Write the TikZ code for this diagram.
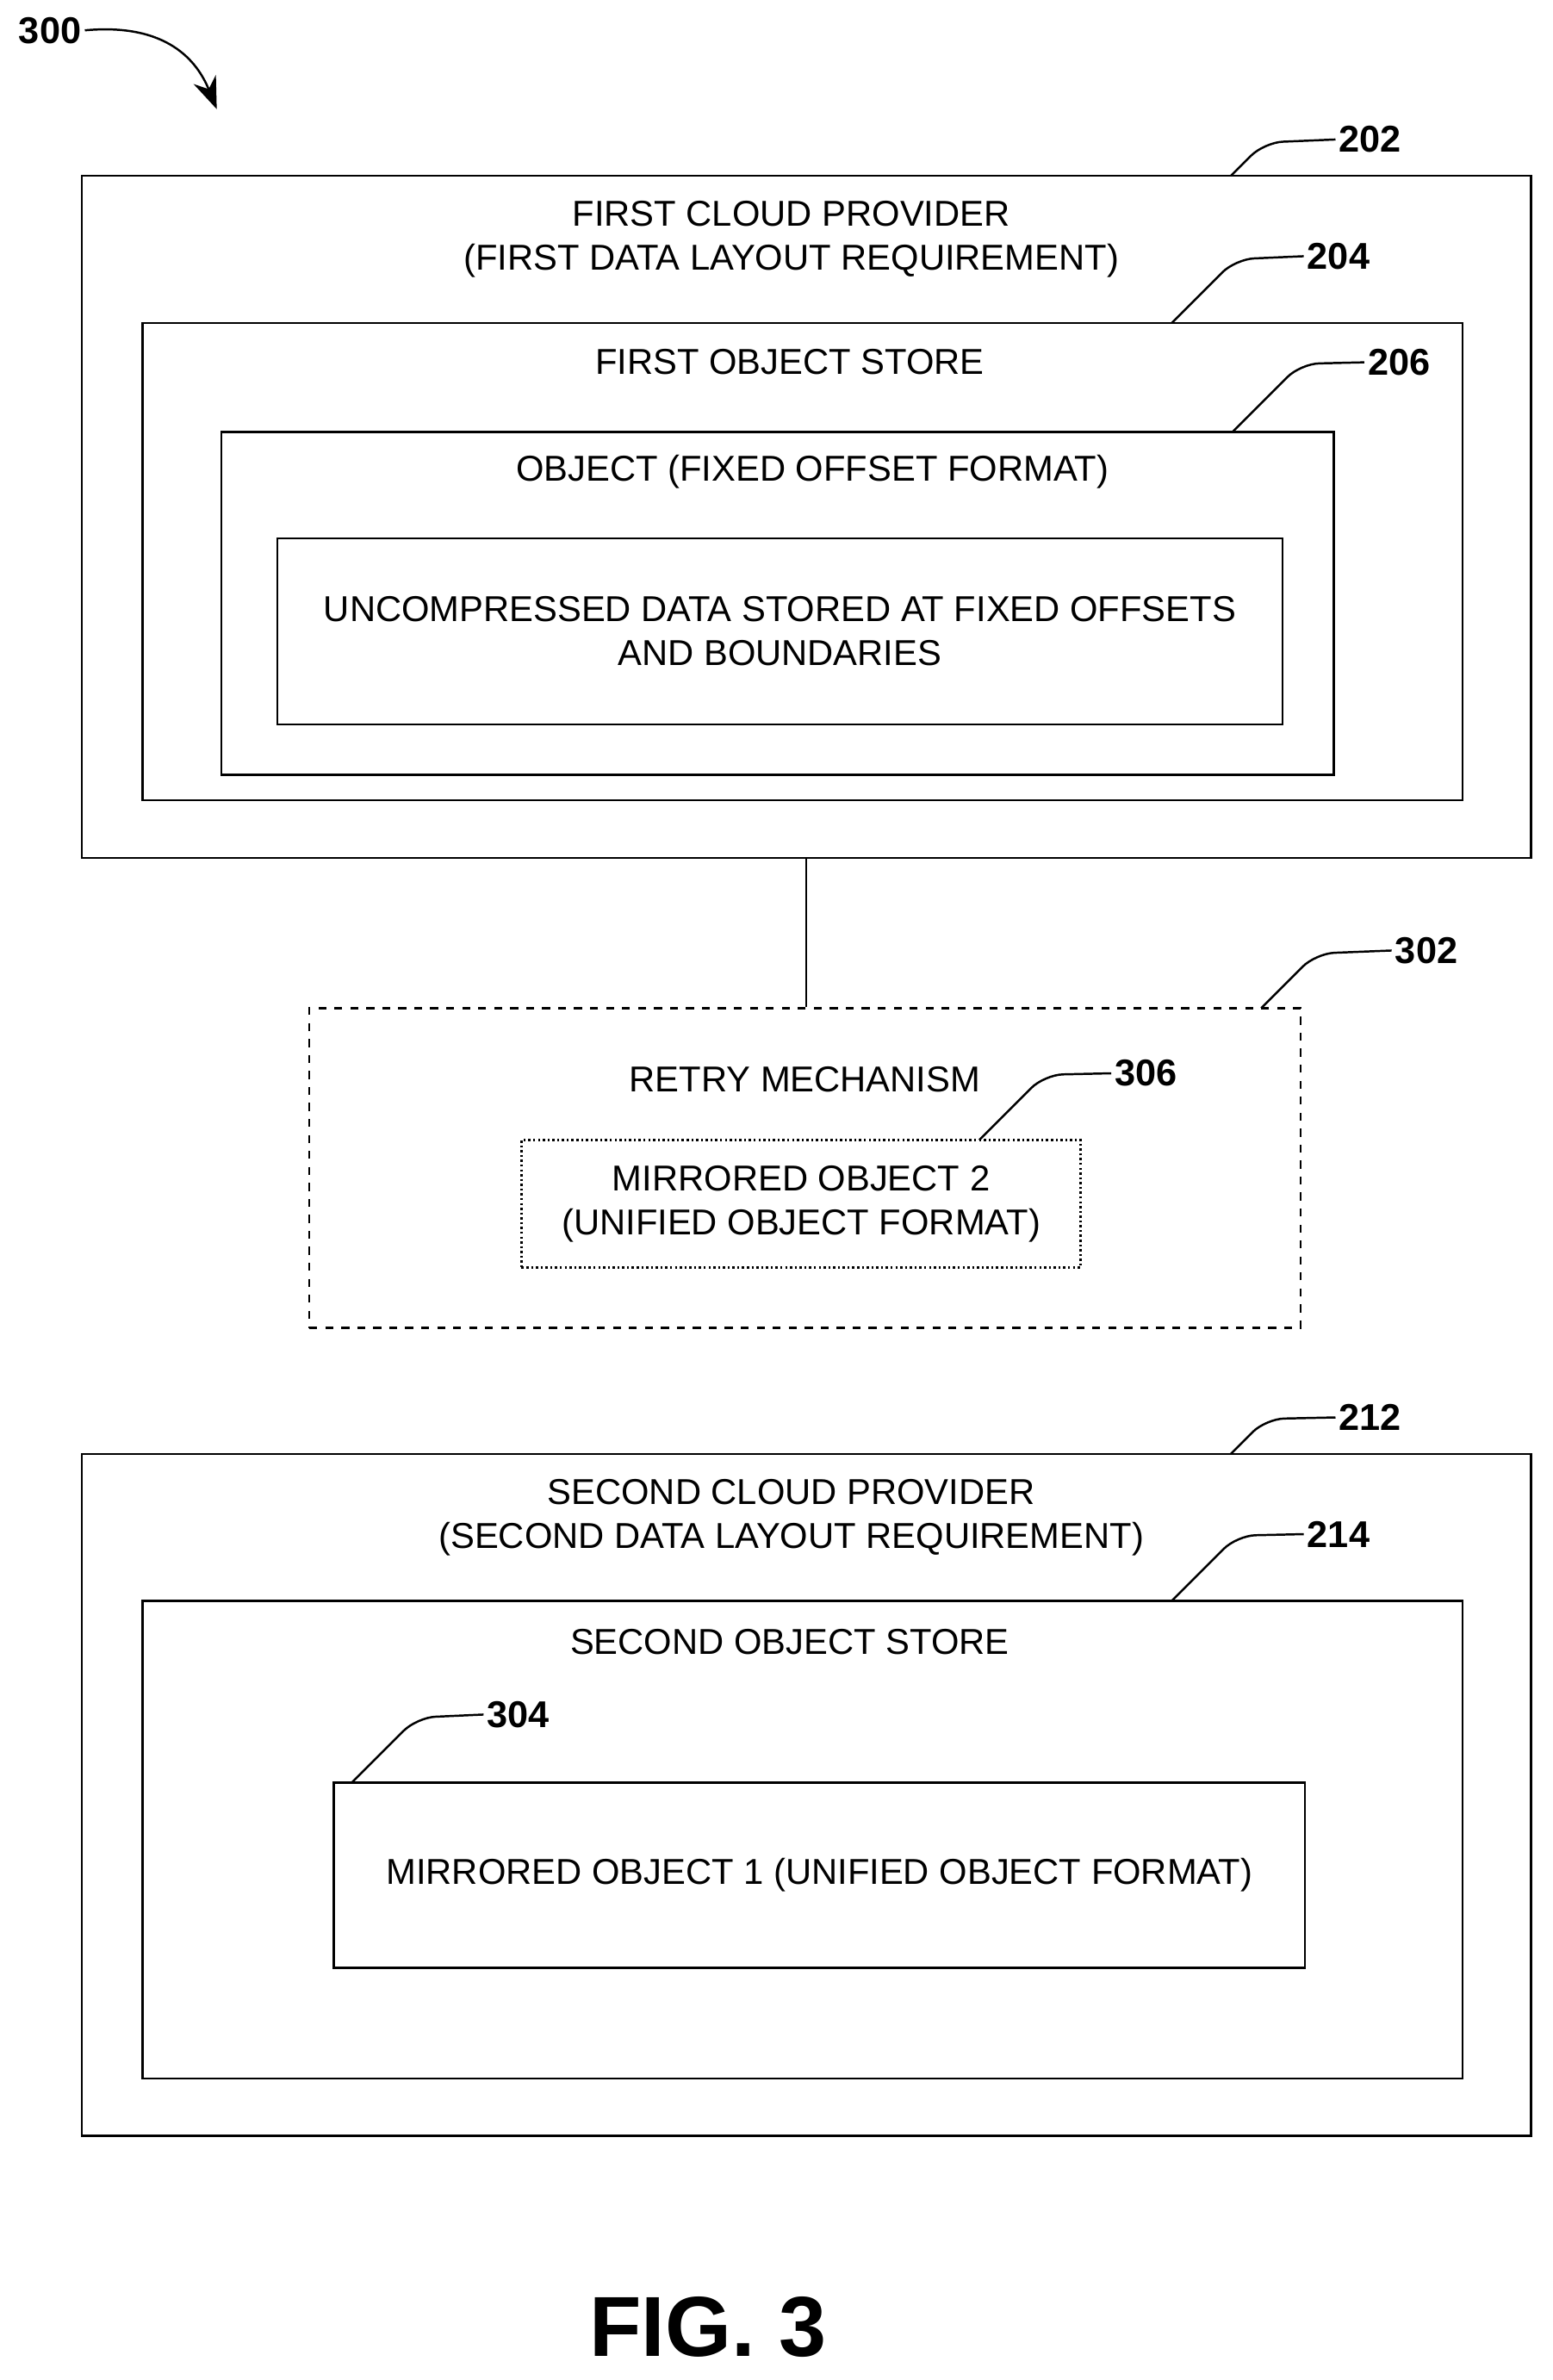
\documentclass[tikz,border=0pt]{standalone}
\usepackage{fontspec}
\setmainfont{Liberation Sans}
\usetikzlibrary{arrows.meta}
\newcommand{\leader}[4]{\draw[rounded corners=7pt] (#1,#2) -- ({#1+#2-#4},#4) -- (#3);}
\begin{document}
\begin{tikzpicture}[x=0.02cm,y=-0.02cm,thick,font=\fontsize{13.5}{16.5}\selectfont]
    \tikzstyle{box}=[draw=black,thick,rectangle,inner sep=0pt]
    \tikzstyle{ttl}=[align=center,inner sep=0pt]
    \tikzstyle{lbl}=[font=\fontsize{14}{16}\selectfont\bfseries,inner sep=1pt]
    \useasboundingbox (0,0) rectangle (1024,1570);
    % first cloud provider
    \node[box, minimum width=19.12cm, minimum height=9cm]    (b202) at (532,341)   {};
    \node[box, minimum width=17.42cm, minimum height=6.3cm]  (b204) at (529.5,370.5) {};
    \node[box, minimum width=14.68cm, minimum height=4.52cm] (b206) at (513,398)   {};
    \node[box, minimum width=13.26cm, minimum height=2.46cm, align=center] (data) at (514.5,416.5)
        {UNCOMPRESSED DATA STORED AT FIXED OFFSETS\\AND BOUNDARIES};
    \node[ttl] (t202) at (522,158) {FIRST CLOUD PROVIDER\\(FIRST DATA LAYOUT REQUIREMENT)};
    \node[ttl] (t204) at (521,239) {FIRST OBJECT STORE};
    \node[ttl] (t206) at (536,311) {OBJECT (FIXED OFFSET FORMAT)};
    % retry mechanism
    \node[box, dashed, minimum width=13.08cm, minimum height=4.22cm] (b302) at (531,770.5) {};
    \node[box, densely dotted, minimum width=7.38cm, minimum height=1.68cm, align=center] (b306) at (528.5,794)
        {MIRRORED OBJECT 2\\(UNIFIED OBJECT FORMAT)};
    \node[ttl] (t302) at (531,712) {RETRY MECHANISM};
    % second cloud provider
    \node[box, minimum width=19.12cm, minimum height=9cm]    (b212) at (532,1184)    {};
    \node[box, minimum width=17.42cm, minimum height=6.3cm]  (b214) at (529.5,1213.5) {};
    \node[box, minimum width=12.82cm, minimum height=2.44cm] (b304) at (540.5,1237)  {MIRRORED OBJECT 1 (UNIFIED OBJECT FORMAT)};
    \node[ttl] (t212) at (522,1001) {SECOND CLOUD PROVIDER\\(SECOND DATA LAYOUT REQUIREMENT)};
    \node[ttl] (t214) at (521,1083) {SECOND OBJECT STORE};
    \draw (b202.south -| 532,0) -- (b302.north -| 532,0);
    % reference labels
    \node[lbl] (l300) at (33,20)   {300};
    \node[lbl] (l202) at (904,92)  {202};
    \node[lbl] (l204) at (883,169) {204};
    \node[lbl] (l206) at (923,239) {206};
    \node[lbl] (l302) at (941,627) {302};
    \node[lbl] (l306) at (756,708) {306};
    \node[lbl] (l212) at (904,935) {212};
    \node[lbl] (l214) at (883,1012) {214};
    \node[lbl] (l304) at (342,1131) {304};
    \leader{812}{116}{l202.west}{94}
    \leader{773}{213}{l204.west}{171}
    \leader{813}{285}{l206.west}{240}
    \leader{832}{665}{l302.west}{629}
    \leader{646}{752}{l306.west}{709}
    \leader{812}{959}{l212.west}{936}
    \leader{773}{1056}{l214.west}{1013}
    \leader{232}{1176}{l304.west}{1133}
    \coordinate (a300) at (143,72);
    \draw[-{Stealth[length=12pt,width=9pt]}] (l300.east) .. controls (110,15) and (130,40) .. (a300);
    \node[font=\fontsize{32}{36}\selectfont\bfseries] (fig) at (467,1535) {FIG. 3};
\end{tikzpicture}
\end{document}
